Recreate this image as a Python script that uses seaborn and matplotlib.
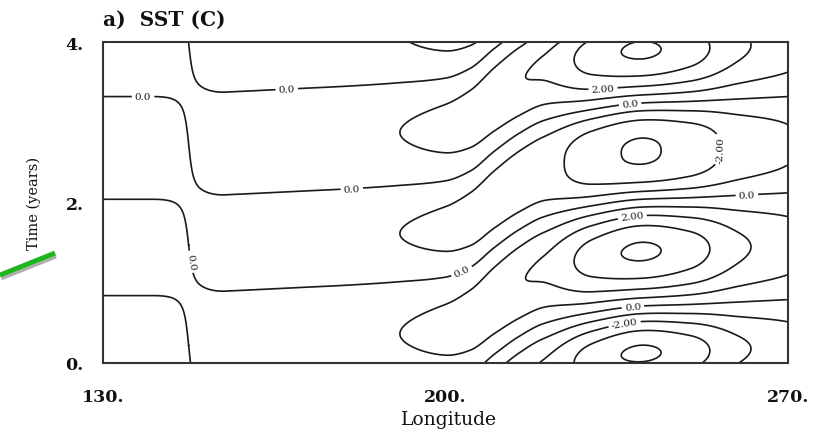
import numpy as np
import matplotlib
matplotlib.use("Agg")
import matplotlib.pyplot as plt
from matplotlib.lines import Line2D
import seaborn as sns

# ---- values ----
# amplitude (C) and time lag (years) of the SST oscillation at each longitude
lon_nodes = [130, 140, 147.5, 150, 160, 170, 180, 190, 200, 205, 210, 215, 220, 230, 240, 250, 260, 270]
amp_nodes = [-0.6, -0.35, 0.0, 0.1, 0.35, 0.55, 0.75, 0.98, 1.35, 1.55, 1.75, 1.95, 2.15, 3.5, 4.15, 3.5, 2.2, 1.5]
lag_nodes = [-1.2, -1.2, -1.17, -1.16, -1.13, -1.1, -1.07, -1.03, -0.97, -0.85, -0.6, -0.38, -0.22, -0.08, 0.0, 0.02, 0.05, 0.08]
# how much of the eastern event scaling applies at each longitude
east_weight = [0, 0, 0, 0, 0, 0, 0, 0, 0, 0, 0.3, 0.7, 1, 1, 1, 1, 1, 1]
# small quadrature part near the node of the pattern (gives the saddle shape)
quad_lon = [130, 140, 147.5, 155, 270]
quad_amp = [0.0, 0.0, 0.03, 0.0, 0.0]
# times (years) of warm peak, zero, cold peak, zero ... at 240E, and event strength in the east
event_time = [-1.12, -0.5, 0.12, 0.71, 1.39, 2.04, 2.64, 3.24, 3.90, 4.52, 5.16, 5.80]
event_scale_east = [1, 1, 1, 1, 1, 1, 0.75, 1, 1, 1, 1, 1]
plain_levels = [-4, -3, -1, 1, 3, 4]
x_ticks = [130, 200, 270]
x_ticklabels = ["130.", "200.", "270."]
y_ticks = [0, 2, 4]
y_ticklabels = ["0.", "2.", "4."]
labelled = {
    0: ("0.0", [(138.2, 3.29), (167.6, 3.34), (180.9, 2.12), (147.8, 1.26),
                (203.4, 1.13), (237.7, 3.25), (261.6, 2.10), (238.3, 0.70)]),
    2: ("2.00", [(232.2, 3.41), (238.3, 1.76)]),
    -2: ("-2.00", [(258.0, 2.66), (236.7, 0.45)]),
}


def pchip(xn, yn, x):
    xn = np.asarray(xn, float)
    yn = np.asarray(yn, float)
    x = np.asarray(x, float)
    h = np.diff(xn)
    delta = np.diff(yn) / h
    n = len(xn)
    d = np.zeros(n)
    for k in range(1, n - 1):
        if delta[k - 1] * delta[k] > 0:
            w1 = 2 * h[k] + h[k - 1]
            w2 = h[k] + 2 * h[k - 1]
            d[k] = (w1 + w2) / (w1 / delta[k - 1] + w2 / delta[k])
    d[0] = delta[0]
    d[-1] = delta[-1]
    i = np.clip(np.searchsorted(xn, x) - 1, 0, n - 2)
    s = (x - xn[i]) / h[i]
    h00 = 2 * s**3 - 3 * s**2 + 1
    h10 = s**3 - 2 * s**2 + s
    h01 = -2 * s**3 + 3 * s**2
    h11 = s**3 - s**2
    return h00 * yn[i] + h10 * h[i] * d[i] + h01 * yn[i + 1] + h11 * h[i] * d[i + 1]


lon = np.linspace(130, 270, 561)
time = np.linspace(0, 4, 401)
A = pchip(lon_nodes, amp_nodes, lon)
L = pchip(lon_nodes, lag_nodes, lon)
Q = pchip(quad_lon, quad_amp, lon)
EW = np.clip(pchip(lon_nodes, east_weight, lon), 0, 1)
event_phase = np.arange(len(event_time)) * np.pi / 2
tau = time[:, None] - L[None, :]
theta = pchip(event_time, event_phase, tau.ravel()).reshape(tau.shape)
scale = pchip(event_time, event_scale_east, tau.ravel()).reshape(tau.shape)
env = 1 + EW[None, :] * (scale - 1)
sst = A[None, :] * env * np.cos(theta) + Q[None, :] * np.sin(theta)

sns.set_theme(style="white")
plt.rcParams["font.family"] = ["DejaVu Serif"]
plt.rcParams["contour.negative_linestyle"] = "solid"

W, H = 817, 431
fig = plt.figure(figsize=(W / 100, H / 100), dpi=100)
ax = fig.add_axes([103 / W, 1 - 364 / H, 685 / W, 321 / H])

line_kw = dict(colors="#1a1a1a", linewidths=1.2)
ax.contour(lon, time, sst, levels=plain_levels, **line_kw)
for lev, (txt, pos) in labelled.items():
    c = ax.contour(lon, time, sst, levels=[lev], **line_kw)
    c.clabel(manual=pos, fmt={lev: txt}, inline=True, inline_spacing=3, fontsize=7.5)

ax.set_xlim(130, 270)
ax.set_ylim(0, 4)
ax.set_xticks(x_ticks)
ax.set_xticklabels(x_ticklabels, fontweight="bold")
ax.set_yticks(y_ticks)
ax.set_yticklabels(y_ticklabels, fontweight="bold")
ax.tick_params(axis="both", direction="in", length=3, width=1, color="#444444",
               labelsize=12.5, labelcolor="#111111")
ax.tick_params(axis="x", pad=18)
ax.tick_params(axis="y", pad=14)
for sp in ax.spines.values():
    sp.set_color("#333333")
    sp.set_linewidth(1.5)

fig.text(103 / W, 1 - 20 / H, "a)  SST (C)", ha="left", va="center", fontsize=14.5,
         fontweight="bold", color="#111111")
fig.text(449 / W, 1 - 420 / H, "Longitude", ha="center", va="center", fontsize=13.5, color="#111111")
fig.text(34 / W, 1 - 203 / H, "Time (years)", ha="center", va="center", rotation=90,
         fontsize=10.5, color="#111111")

# green annotation stroke at the left edge
fig.add_artist(Line2D([1 / W, 56 / W], [1 - 279 / H, 1 - 257 / H], color="#b0b0b0", lw=3.5,
                      solid_capstyle="butt"))
fig.add_artist(Line2D([0 / W, 55 / W], [1 - 276 / H, 1 - 254 / H], color="#1fb51f", lw=3.5,
                      solid_capstyle="butt"))

fig.savefig("out.png", dpi=100)
